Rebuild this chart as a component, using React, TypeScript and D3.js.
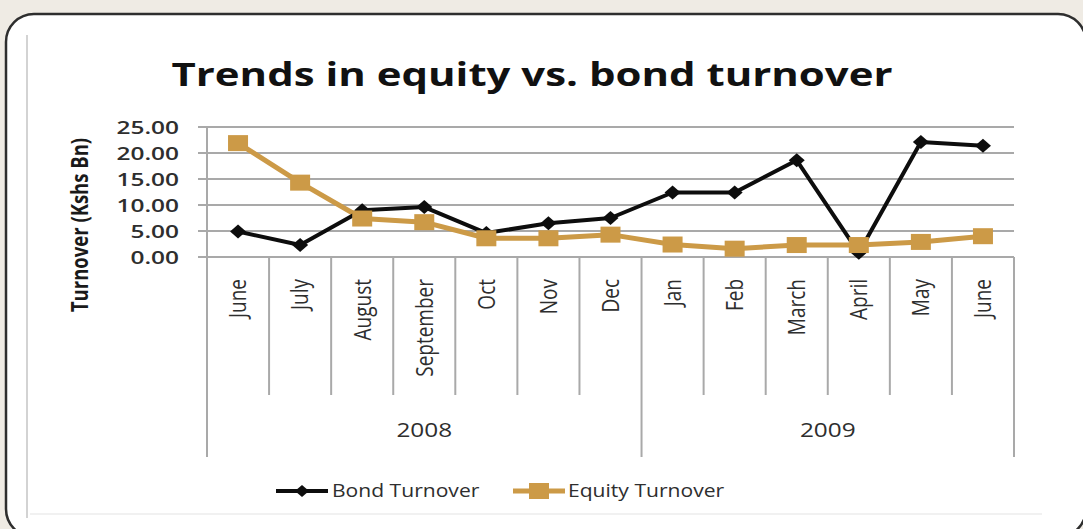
import React from "react";
import * as d3 from "d3";

const months = ["June", "July", "August", "September", "Oct", "Nov", "Dec", "Jan", "Feb", "March", "April", "May", "June"];
const years = [
  { label: "2008", start: 0, end: 7 },
  { label: "2009", start: 7, end: 13 },
];
const bondTurnover = [4.9, 2.3, 9.0, 9.6, 4.6, 6.5, 7.5, 12.4, 12.4, 18.6, 0.8, 22.1, 21.4];
const equityTurnover = [21.9, 14.3, 7.4, 6.7, 3.6, 3.6, 4.3, 2.4, 1.6, 2.3, 2.3, 2.9, 4.0];
const yTicks = [0, 5, 10, 15, 20, 25];
const title = "Trends in equity vs. bond turnover";
const yTitle = "Turnover (Kshs Bn)";
const seriesNames = ["Bond Turnover", "Equity Turnover"];

const W = 1083;
const H = 529;
const FONT = "'Open Sans', 'Noto Sans', sans-serif";
const BLACK = "#0d0d0d";
const ORANGE = "#cc9a47";
const GRID = "#a9a9a9";
const TXT = "#2e2e2e";
const SX = 1.22;

export default function App() {
  const idx = months.map((_, i) => i);
  const x = d3.scaleBand<number>().domain(idx).range([207, 1014]);
  const y = d3.scaleLinear().domain([0, 25]).range([257, 127]);
  const cx = (i: number) => (x(i) as number) + x.bandwidth() / 2;
  const line = d3
    .line<number>()
    .x((_, i) => cx(i))
    .y((d) => y(d));

  const plotLeft = x.range()[0];
  const plotRight = x.range()[1];
  const innerSepBottom = 395;
  const outerSepBottom = 457;

  const diamond = (px: number, py: number, hw: number, hh: number) =>
    `M${px},${py - hh}L${px + hw},${py}L${px},${py + hh}L${px - hw},${py}Z`;

  const boundary = (i: number) => (i < months.length ? (x(i) as number) : plotRight);

  return (
    <svg
      width={W}
      height={H}
      style={{ position: "fixed", left: 0, top: 0 }}
      fontFamily={FONT}
    >
      <rect x={0} y={0} width={W} height={H} fill="#efebe4" />
      <rect x={6} y={14} width={1080} height={523} rx={28} ry={28} fill="#ffffff" stroke="#2e2e2e" strokeWidth={2.5} />
      {/* inner chart frame */}
      <line x1={27} x2={27} y1={35} y2={518} stroke="#c4c4c4" strokeWidth={1.5} />
      <line x1={30} x2={1042} y1={514} y2={514} stroke="#ececec" strokeWidth={1.5} />

      {/* title */}
      <text
        x={532}
        y={86}
        textAnchor="middle"
        fontSize={33}
        fontWeight="bold"
        fill="#111"
        textLength={721}
        lengthAdjust="spacingAndGlyphs"
      >
        {title}
      </text>

      {/* y axis title */}
      <g transform={`translate(80,225) rotate(-90) scale(1,${SX})`}>
        <text x={0} y={0} dy="0.35em" textAnchor="middle" fontSize={18.5} fontWeight="bold" fill="#1a1a1a">
          {yTitle}
        </text>
      </g>

      {/* gridlines + y ticks */}
      {yTicks.map((t) => (
        <g key={t}>
          <line x1={198} x2={plotRight} y1={y(t)} y2={y(t)} stroke={GRID} strokeWidth={2} />
          <g transform={`translate(179,${y(t)}) scale(${SX + 0.1},1)`}>
            <text x={0} y={0} dy="0.4em" textAnchor="end" fontSize={18.5} fontWeight={600} fill={TXT}>
              {t.toFixed(2)}
            </text>
          </g>
        </g>
      ))}

      {/* vertical axis */}
      <line x1={plotLeft} x2={plotLeft} y1={y(25)} y2={outerSepBottom} stroke={GRID} strokeWidth={2} />

      {/* category separators */}
      {d3.range(1, months.length + 1).map((i) => {
        const isYear = years.some((yr) => yr.end === i);
        return (
          <line
            key={i}
            x1={boundary(i)}
            x2={boundary(i)}
            y1={y(0)}
            y2={isYear ? outerSepBottom : innerSepBottom}
            stroke={GRID}
            strokeWidth={2}
          />
        );
      })}

      {/* month labels */}
      {months.map((m, i) => (
        <g key={i} transform={`translate(${cx(i)},279) rotate(-90) scale(1,${SX})`}>
          <text x={0} y={0} dy="0.36em" textAnchor="end" fontSize={19} fontWeight={500} fill={TXT}>
            {m}
          </text>
        </g>
      ))}

      {/* year labels */}
      {years.map((yr) => {
        const mid = (boundary(yr.start) + boundary(yr.end)) / 2;
        return (
          <g key={yr.label} transform={`translate(${mid},437) scale(${SX},1)`}>
            <text x={0} y={0} textAnchor="middle" fontSize={20} fontWeight={500} fill={TXT}>
              {yr.label}
            </text>
          </g>
        );
      })}

      {/* equity series */}
      <path d={line(equityTurnover) ?? ""} fill="none" stroke={ORANGE} strokeWidth={5} strokeLinejoin="round" />
      {/* bond series */}
      <path d={line(bondTurnover) ?? ""} fill="none" stroke={BLACK} strokeWidth={4} strokeLinejoin="round" />
      {bondTurnover.map((v, i) => (
        <path key={"b" + i} d={diamond(cx(i), y(v), 8, 7)} fill={BLACK} />
      ))}
      {equityTurnover.map((v, i) => (
        <rect key={"e" + i} x={cx(i) - 10} y={y(v) - 8} width={20} height={16} fill={ORANGE} />
      ))}

      {/* legend */}
      <g>
        <line x1={276} x2={328} y1={491} y2={491} stroke={BLACK} strokeWidth={4} />
        <path d={diamond(302, 491, 7, 6)} fill={BLACK} />
        <g transform={`translate(332,497) scale(1.14,1)`}>
          <text x={0} y={0} fontSize={18.5} fontWeight={500} fill={TXT}>
            {seriesNames[0]}
          </text>
        </g>
        <line x1={513} x2={565} y1={491} y2={491} stroke={ORANGE} strokeWidth={5} />
        <rect x={529} y={483} width={20} height={16} fill={ORANGE} />
        <g transform={`translate(568,497) scale(1.14,1)`}>
          <text x={0} y={0} fontSize={18.5} fontWeight={500} fill={TXT}>
            {seriesNames[1]}
          </text>
        </g>
      </g>
    </svg>
  );
}
